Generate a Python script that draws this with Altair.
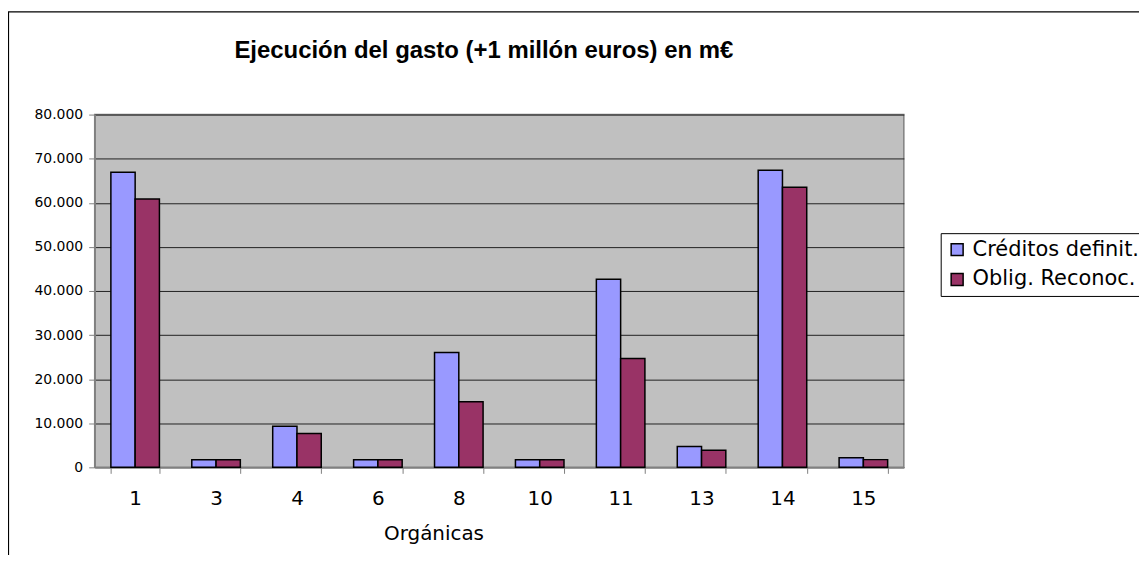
import altair as alt
import pandas as pd

title_text = "Ejecución del gasto (+1 millón euros) en m€"
categories = ["1", "3", "4", "6", "8", "10", "11", "13", "14", "15"]
creditos = [66900, 1700, 9300, 1700, 26050, 1700, 42650, 4750, 67350, 2200]
obligaciones = [60850, 1700, 7700, 1700, 14900, 1700, 24700, 3900, 63500, 1750]
series_names = ["Créditos definit.", "Oblig. Reconoc."]
series_colors = ["#9999FF", "#993366"]

rows = []
for c, a, b in zip(categories, creditos, obligaciones):
    rows.append({"org": c, "serie": series_names[0], "valor": a})
    rows.append({"org": c, "serie": series_names[1], "valor": b})
df = pd.DataFrame(rows)

FONT = "DejaVu Sans"

bars = alt.Chart(df).mark_bar(stroke="black", strokeWidth=1.5).encode(
    x=alt.X("org:N", sort=categories,
            scale=alt.Scale(paddingInner=0.4, paddingOuter=0.2),
            axis=alt.Axis(title="Orgánicas", labelAngle=0, tickBand="extent",
                          tickSize=6, tickColor="#808080", domainColor="#808080",
                          domainWidth=1.5, labelPadding=15, labelFontSize=20,
                          labelFont=FONT, labelColor="black", titleFont=FONT,
                          titleFontSize=20, titleFontWeight="normal",
                          titleColor="black", titleX=340, titleY=72,
                          titleBaseline="alphabetic", grid=False)),
    xOffset=alt.XOffset("serie:N", sort=series_names),
    y=alt.Y("valor:Q",
            scale=alt.Scale(domain=[0, 80000], nice=False),
            axis=alt.Axis(title=None, values=list(range(0, 80001, 10000)),
                          labelExpr="replace(format(datum.value, ',d'), ',', '.')",
                          tickSize=6, tickColor="#808080", domainColor="#808080",
                          domainWidth=1.5, labelPadding=6, labelFontSize=14,
                          labelFont=FONT, labelColor="black",
                          grid=True, gridColor="#222222", gridWidth=1)),
    color=alt.Color("serie:N", sort=series_names,
                    scale=alt.Scale(domain=series_names, range=series_colors),
                    legend=alt.Legend(title=None, orient="none", legendX=849,
                                      legendY=119, strokeColor="black",
                                      fillColor="white", padding=6,
                                      symbolType="square", symbolSize=144,
                                      symbolStrokeColor="black",
                                      symbolStrokeWidth=1.5,
                                      symbolOpacity=1,
                                      labelFont=FONT, labelFontSize=21,
                                      labelLimit=400,
                                      labelColor="black", rowPadding=8,
                                      labelOffset=5)),
)

frame = alt.Chart(alt.Data(values=[{}])).mark_rect(
    fill=None, stroke="black", strokeWidth=1.2
).encode(
    x=alt.value(-86.5), y=alt.value(-103), x2=alt.value(3000), y2=alt.value(3000)
)

title = alt.Chart(alt.Data(values=[{"t": title_text}])).mark_text(
    font="Liberation Sans", fontSize=24, fontWeight="bold", color="black",
    align="center", baseline="alphabetic"
).encode(
    text="t:N", x=alt.value(390.5), y=alt.value(-57)
)

chart = alt.layer(frame, title, bars).properties(
    width=812,
    height=354,
    autosize=alt.AutoSizeParams(type="none"),
    padding={"left": 87, "top": 106, "right": 236, "bottom": 87},
).configure_view(
    fill="#C0C0C0", stroke="#808080", strokeWidth=1.5
)

chart.save("out.html", embed_options={"renderer": "svg", "actions": False})
